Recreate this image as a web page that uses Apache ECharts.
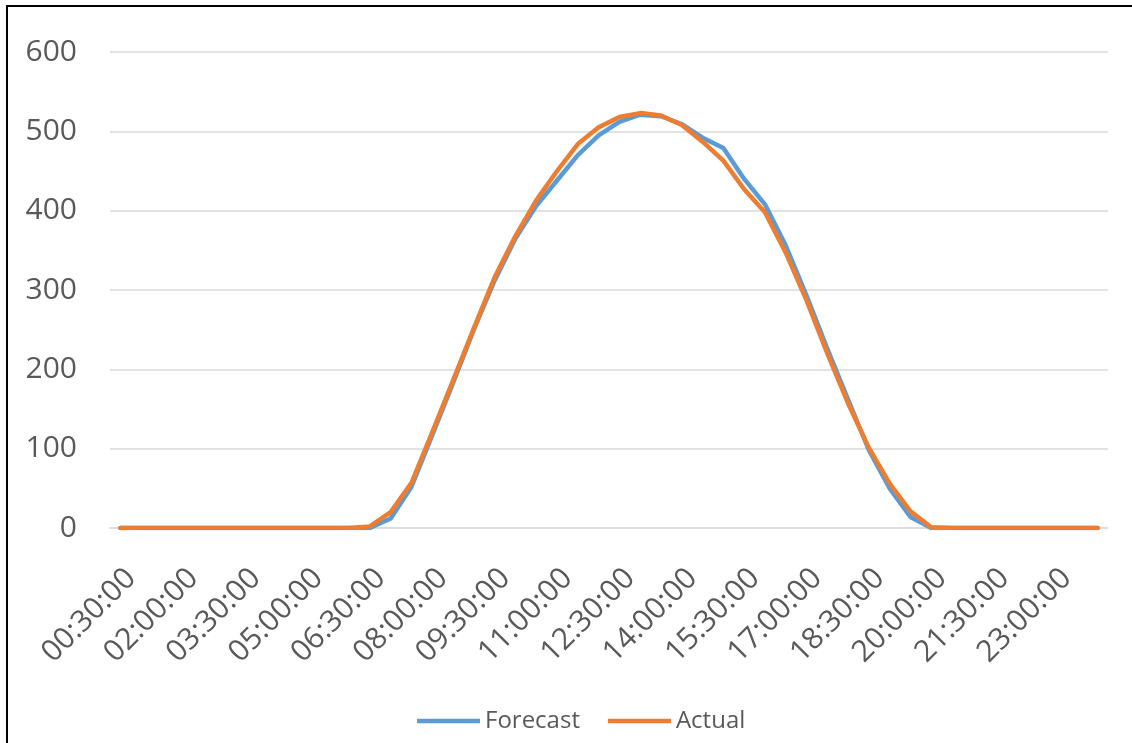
<!DOCTYPE html>
<html><head><meta charset="utf-8">
<script src="https://cdn.jsdelivr.net/npm/echarts@6/dist/echarts.min.js"></script>
<style>
html,body{margin:0;padding:0;background:#fff;overflow:hidden}
#chart{position:absolute;left:0;top:0;width:1132px;height:743px}
#frame{position:absolute;left:6px;top:5px;width:1140px;height:760px;border-left:2px solid #000;border-top:2px solid #000;pointer-events:none}
</style></head><body>
<div id="chart"></div><div id="frame"></div>
<script>
const categories = [
 "00:30:00","01:00:00","01:30:00","02:00:00","02:30:00","03:00:00","03:30:00","04:00:00",
 "04:30:00","05:00:00","05:30:00","06:00:00","06:30:00","07:00:00","07:30:00","08:00:00",
 "08:30:00","09:00:00","09:30:00","10:00:00","10:30:00","11:00:00","11:30:00","12:00:00",
 "12:30:00","13:00:00","13:30:00","14:00:00","14:30:00","15:00:00","15:30:00","16:00:00",
 "16:30:00","17:00:00","17:30:00","18:00:00","18:30:00","19:00:00","19:30:00","20:00:00",
 "20:30:00","21:00:00","21:30:00","22:00:00","22:30:00","23:00:00","23:30:00","00:00:00"
];
const forecast = [
 0,0,0,0,0,0,0,0,0,0,0,0,
 0,12,52,117,183,250,312,365,406,438,470,495,
 512,521,519,509,492,479,440,408,356,293,226,162,
 98,50,14,0,0,0,0,0,0,0,0,0
];
const actual = [
 0,0,0,0,0,0,0,0,0,0,0,0,
 2,20,57,121,186,252,316,368,413,450,484,505,
 518,523,520,508,487,463,427,398,347,287,220,157,
 101,56,21,1,0,0,0,0,0,0,0,0
];
const seriesNames = ["Forecast", "Actual"];
const yMin = 0, yMax = 600, yStep = 100;

const chart = echarts.init(document.getElementById('chart'), null, {renderer: 'canvas'});
const labelColor = '#595959';
chart.setOption({
  backgroundColor: '#ffffff',
  animation: false,
  textStyle: {fontFamily: 'Open Sans'},
  grid: {left: 110, right: 24, top: 52, bottom: 215, containLabel: false},
  legend: {
    data: seriesNames,
    left: 412, top: 704,
    icon: 'rect', itemWidth: 63, itemHeight: 4.5, itemGap: 28,
    textStyle: {fontSize: 24, color: labelColor, fontFamily: 'Open Sans'}
  },
  xAxis: {
    type: 'category',
    data: categories,
    boundaryGap: true,
    axisLine: {show: true, lineStyle: {color: '#d9d9d9', width: 1.5}},
    axisTick: {show: false},
    axisLabel: {
      interval: 2, rotate: 45, margin: 35,
      align: 'right', verticalAlign: 'top',
      fontSize: 30, color: labelColor, fontFamily: 'Open Sans'
    },
    splitLine: {show: false}
  },
  yAxis: {
    type: 'value', min: yMin, max: yMax, interval: yStep,
    axisLine: {show: false}, axisTick: {show: false},
    axisLabel: {margin: 33, fontSize: 30, color: labelColor, fontFamily: 'Open Sans'},
    splitLine: {lineStyle: {color: '#d9d9d9', width: 1.5}}
  },
  series: [
    {name: seriesNames[0], type: 'line', data: forecast, showSymbol: false, symbol: 'none',
     lineStyle: {color: '#5B9BD5', width: 4.5, cap: 'round', join: 'round'}, itemStyle: {color: '#5B9BD5'}},
    {name: seriesNames[1], type: 'line', data: actual, showSymbol: false, symbol: 'none',
     lineStyle: {color: '#ED7D31', width: 4.5, cap: 'round', join: 'round'}, itemStyle: {color: '#ED7D31'}}
  ]
});
</script>
</body></html>
